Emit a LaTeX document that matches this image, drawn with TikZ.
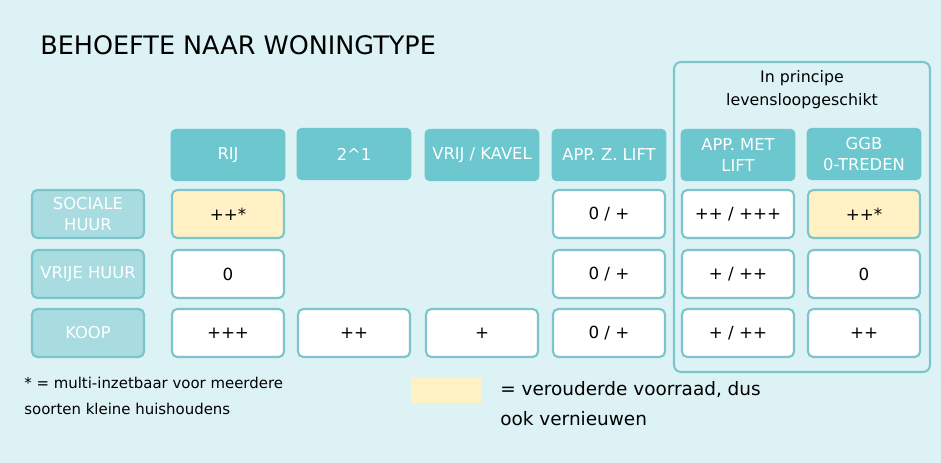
\documentclass[tikz,border=0pt]{standalone}
\usepackage{fontspec}
\setmainfont{DejaVu Sans}
\usetikzlibrary{positioning}
\definecolor{bgc}{HTML}{DDF2F4}
\definecolor{headc}{HTML}{6CC7CF}
\definecolor{rowc}{HTML}{A8DCE0}
\definecolor{linec}{HTML}{7CC5CC}
\definecolor{oldc}{HTML}{FFF1C4}
\tikzset{
  head/.style={fill=headc, rounded corners=3pt, text=white, minimum width=2.3cm, minimum height=1.05cm, align=center, font=\fontsize{9.3}{12}\selectfont, inner sep=1pt},
  rowlab/.style={fill=rowc, draw=linec, line width=1.2pt, rounded corners=3pt, text=white, minimum width=2.24cm, minimum height=0.96cm, align=center, font=\fontsize{9.3}{12}\selectfont, inner sep=1pt},
  cell/.style={fill=white, draw=linec, line width=1.2pt, rounded corners=3pt, minimum width=2.24cm, minimum height=0.96cm, font=\fontsize{9.5}{12}\selectfont},
  oldcell/.style={cell, fill=oldc},
  note/.style={anchor=west, inner sep=0pt, font=\fontsize{8.5}{10}\selectfont}
}
\begin{document}
\begin{tikzpicture}[x=0.02cm, y=-0.02cm]
  \fill[bgc] (0,0) rectangle (941,463);
  \useasboundingbox (0,0) rectangle (941,463);

  \node[anchor=west, inner sep=0pt, font=\fontsize{14.5}{17}\selectfont] (title) at (40,45) {BEHOEFTE NAAR WONINGTYPE};

  % groep levensloopgeschikt
  \node[draw=linec, line width=1.2pt, rounded corners=4pt, minimum width=5.12cm, minimum height=6.2cm] (groep) at (802,217) {};
  \node[align=center, font=\fontsize{9}{13}\selectfont] (groeplab) at (802,90) {In principe\\levensloopgeschikt};

  % kolomkoppen
  \node[head] (rij) at (228,155) {RIJ};
  \node[head] (twee) at (354,154) {2\textasciicircum1};
  \node[head] (vrij) at (482,155) {VRIJ / KAVEL};
  \node[head] (appz) at (609,155) {APP. Z. LIFT};
  \node[head] (appm) at (738,155) {APP. MET\\LIFT};
  \node[head] (ggb) at (864,154) {GGB\\0-TREDEN};

  % rijkoppen
  \node[rowlab] (soc) at (88,214) {SOCIALE\\HUUR};
  \node[rowlab] (vhuur) at (88,274) {VRIJE HUUR};
  \node[rowlab] (koop) at (88,333) {KOOP};

  % cellen
  \node[oldcell] (soc-rij) at (228,214) {++*};
  \node[cell] (soc-appz) at (609,214) {0 / +};
  \node[cell] (soc-appm) at (738,214) {++ / +++};
  \node[oldcell] (soc-ggb) at (864,214) {++*};

  \node[cell] (vh-rij) at (228,274) {0};
  \node[cell] (vh-appz) at (609,274) {0 / +};
  \node[cell] (vh-appm) at (738,274) {+ / ++};
  \node[cell] (vh-ggb) at (864,274) {0};

  \node[cell] (k-rij) at (228,333) {+++};
  \node[cell] (k-twee) at (354,333) {++};
  \node[cell] (k-vrij) at (482,333) {+};
  \node[cell] (k-appz) at (609,333) {0 / +};
  \node[cell] (k-appm) at (738,333) {+ / ++};
  \node[cell] (k-ggb) at (864,333) {++};

  % legenda
  \node[note] (ster1) at (24,383) {* = multi-inzetbaar voor meerdere};
  \node[note] (ster2) at (24,409) {soorten kleine huishoudens};
  \node[fill=oldc, minimum width=1.42cm, minimum height=0.54cm, inner sep=0pt] (legvak) at (446,390) {};
  \node[note, font=\fontsize{10.5}{12}\selectfont] (leg1) at (500,390) {= verouderde voorraad, dus};
  \node[note, font=\fontsize{10.5}{12}\selectfont] (leg2) at (500,419) {ook vernieuwen};
\end{tikzpicture}
\end{document}
